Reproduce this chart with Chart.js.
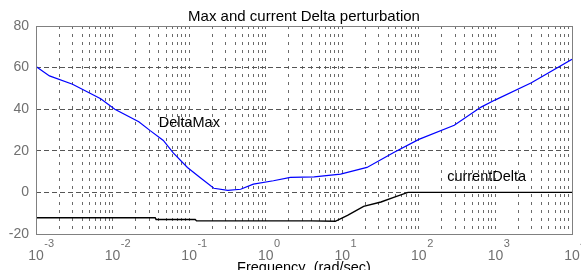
<!DOCTYPE html>
<html>
<head>
<meta charset="utf-8">
<script src="https://cdn.jsdelivr.net/npm/chart.js@4"></script>
<style>
  body { margin: 0; background: #fff; }
  canvas { display: block; }
</style>
</head>
<body>
<canvas id="myChart" width="581" height="270"></canvas>
<script>
// DeltaMax curve (blue), frequency in rad/sec
var maxFreq = [0.001, 0.0015, 0.003, 0.007, 0.0107, 0.022, 0.031, 0.046, 0.062, 0.095, 0.14, 0.21, 0.32, 0.47, 0.69, 1.26, 2.1, 4.3, 9.5, 21, 47, 100, 290, 650, 1000, 2950, 10000];
var maxValues = [60.5, 56, 52, 45, 40, 34, 29.7, 25, 19, 12, 7, 2, 1, 1.5, 4, 5.6, 7.2, 7.5, 8.8, 12, 19.2, 25.5, 32.3, 41, 44.5, 52.7, 64];

// currentDelta curve (black)
var curFreq = [0.001, 0.036, 0.037, 0.12, 0.125, 3.9, 8.1, 11.7, 19, 32, 47, 72, 10000];
var curValues = [-12.2, -12.2, -13, -13, -13.7, -13.7, -13.9, -11, -6.7, -4.6, -2.4, 0, 0];

var yTicks = [-20, 0, 20, 40, 60, 80];
var xDecades = [-3, -2, -1, 0, 1, 2, 3, 4];

var titleText = "Max and current Delta perturbation";
var xTitle = "Frequency  (rad/sec)";
// text labels placed at data coordinates
var curveLabels = [
    {text: "DeltaMax", x: 0.04, y: 33.4},
    {text: "currentDelta", x: 234, y: 7.4}
];

var fontFamily = '"Liberation Sans", Arial, Helvetica, sans-serif';

function toPoints(xs, ys) {
    return xs.map(function(x, i) { return {x: x, y: ys[i]}; });
}

var decorPlugin = {
    id: "decor",
    afterDraw: function(chart) {
        var ctx = chart.ctx;
        var area = chart.chartArea;
        var xs = chart.scales.x;
        var ys = chart.scales.y;
        ctx.save();

        // frame
        ctx.strokeStyle = "#808080";
        ctx.lineWidth = 1;
        ctx.strokeRect(Math.round(area.left) + 0.5, Math.round(area.top) + 0.5,
            Math.round(area.right - area.left), Math.round(area.bottom - area.top));

        // title
        ctx.fillStyle = "#000";
        ctx.font = "15px " + fontFamily;
        ctx.textAlign = "center";
        ctx.textBaseline = "alphabetic";
        ctx.fillText(titleText, (area.left + area.right) / 2, 21);

        // x title (bottom is clipped in the original too)
        ctx.font = "14.5px " + fontFamily;
        ctx.fillText(xTitle, (area.left + area.right) / 2, 272);

        // x tick labels 10^n
        ctx.fillStyle = "#707070";
        xDecades.forEach(function(d) {
            var px = xs.getPixelForValue(Math.pow(10, d));
            ctx.font = "14px " + fontFamily;
            ctx.textAlign = "center";
            ctx.textBaseline = "alphabetic";
            ctx.fillText("10", px, 260);
            var w = ctx.measureText("10").width;
            ctx.font = "11px " + fontFamily;
            ctx.textAlign = "left";
            ctx.fillText(String(d), px + w / 2 + 0.5, 247);
        });

        // curve labels
        ctx.fillStyle = "#000";
        ctx.font = "14.5px " + fontFamily;
        ctx.textAlign = "left";
        ctx.textBaseline = "middle";
        curveLabels.forEach(function(l) {
            ctx.fillText(l.text, xs.getPixelForValue(l.x), ys.getPixelForValue(l.y));
        });
        ctx.restore();
    }
};

new Chart("myChart", {
    type: "scatter",
    data: {
        datasets: [{
            label: "DeltaMax",
            data: toPoints(maxFreq, maxValues),
            showLine: true,
            borderColor: "#0000ff",
            borderWidth: 1.2,
            pointRadius: 0,
            tension: 0
        }, {
            label: "currentDelta",
            data: toPoints(curFreq, curValues),
            showLine: true,
            borderColor: "#000000",
            borderWidth: 1.4,
            pointRadius: 0,
            tension: 0
        }]
    },
    options: {
        responsive: false,
        animation: false,
        layout: {padding: {top: 26, right: 9, left: 0, bottom: 0}},
        plugins: {
            legend: {display: false},
            title: {display: false},
            tooltip: {enabled: false}
        },
        scales: {
            x: {
                type: "logarithmic",
                min: 0.001,
                max: 10000,
                afterBuildTicks: function(scale) {
                    var t = [];
                    for (var d = -3; d < 4; d++) {
                        for (var m = 1; m < 10; m++) {
                            t.push({value: m * Math.pow(10, d)});
                        }
                    }
                    t.push({value: 10000});
                    scale.ticks = t;
                },
                afterFit: function(scale) { scale.height = 36; },
                ticks: {display: false},
                grid: {color: "#6a6a6a", lineWidth: 1, drawTicks: false},
                border: {display: false, dash: [3, 5]}
            },
            y: {
                min: -20,
                max: 80,
                afterBuildTicks: function(scale) {
                    scale.ticks = yTicks.map(function(v) { return {value: v}; });
                },
                afterFit: function(scale) { scale.width = 36; },
                ticks: {
                    color: "#707070",
                    padding: 7,
                    font: {family: fontFamily, size: 14}
                },
                grid: {color: "#555", lineWidth: 1, drawTicks: false},
                border: {display: false, dash: [5, 3]}
            }
        }
    },
    plugins: [decorPlugin]
});
</script>
</body>
</html>
